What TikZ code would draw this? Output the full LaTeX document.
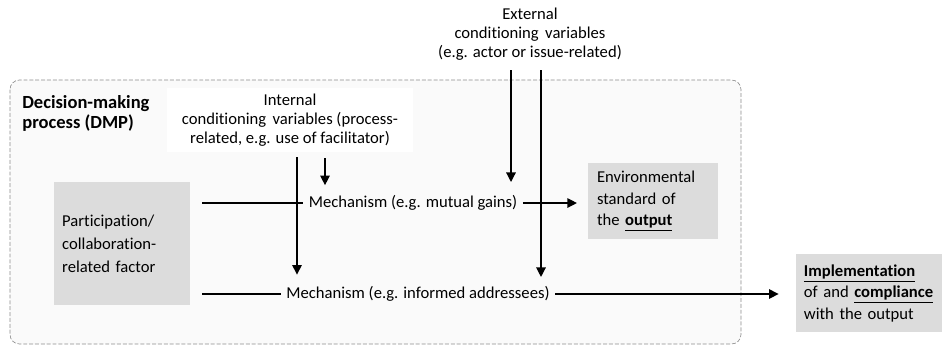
\documentclass[tikz,border=0pt]{standalone}
\usepackage{fontspec}
\setmainfont{Carlito}[Ligatures=NoCommon]
\usetikzlibrary{arrows.meta}
\definecolor{boxgrey}{HTML}{DCDCDC}
\definecolor{dmpfill}{HTML}{FAFAFA}
\definecolor{dmpline}{HTML}{8C8C8C}
\begin{document}
\begin{tikzpicture}[x=0.0222cm,y=-0.0222cm, font=\fontsize{10.5}{12}\selectfont,
  greybox/.style={fill=boxgrey, anchor=north west, align=left, inner xsep=5pt},
  arr/.style={thick, -{Triangle[length=6pt,width=6pt]}}]
\useasboundingbox (0,0) rectangle (942,347);
\draw[dmpline, fill=dmpfill, dash pattern=on 2.5pt off 1.2pt, rounded corners=6pt] (10,80) rectangle (741,344);
\node[anchor=north west, align=left, font=\fontsize{11.7}{13}\selectfont\bfseries, inner sep=0pt] (dmp) at (22,95) {Decision-making\\process (DMP)};

\node[fill=white, align=center, anchor=north, minimum width=5.46cm, minimum height=1.42cm] (intl) at (290,88) {Internal\\conditioning\, variables (process-\\related, e.g. use of facilitator)};
\node[align=center, anchor=north] (extl) at (530,2) {External\\conditioning\, variables\\(e.g. actor or issue-related)};

\node[greybox, minimum width=3cm, minimum height=2.73cm, text width=2.65cm, font=\fontsize{10.5}{14.5}\selectfont] (part) at (54,182) {Participation/\\collaboration-\\related factor};
\node[greybox, minimum width=2.886cm, minimum height=1.687cm, text width=2.5cm, font=\fontsize{10.5}{13.6}\selectfont] (env) at (588,163) {Environmental\\standard of\\the \underline{\textbf{output}}};
\node[greybox, minimum width=3.24cm, minimum height=1.73cm, text width=2.9cm, inner xsep=4.4pt, font=\fontsize{10.5}{13.6}\selectfont] (impl) at (796,254) {\underline{\textbf{Implementation}}\\of and \underline{\textbf{compliance}}\\with the output};

\node (mechA) at (413,203) {Mechanism (e.g. mutual gains)};
\node (mechB) at (418,294) {Mechanism (e.g. informed addressees)};

\coordinate (inLong) at (297,157);
\coordinate (inShort) at (325,158);
\coordinate (exA) at (511,70);
\coordinate (exB) at (541,70);

\draw[thick, shorten <=8pt] (part.east |- mechA) -- (mechA.west);
\draw[thick, shorten <=8pt] (part.east |- mechB) -- (mechB.west);
\draw[arr, shorten >=7pt] (mechA.east) -- (env.west |- mechA);
\draw[arr, shorten >=11pt] (mechB.east) -- (impl.west |- mechB);

\draw[arr, shorten >=4pt] (inLong) -- (inLong |- mechB.north);
\draw[arr, shorten >=3pt] (inShort) -- (inShort |- mechA.north);
\draw[arr, shorten >=5pt] (exA) -- (exA |- mechA.north);
\draw[arr, shorten >=2.5pt] (exB) -- (exB |- mechB.north);
\end{tikzpicture}
\end{document}
